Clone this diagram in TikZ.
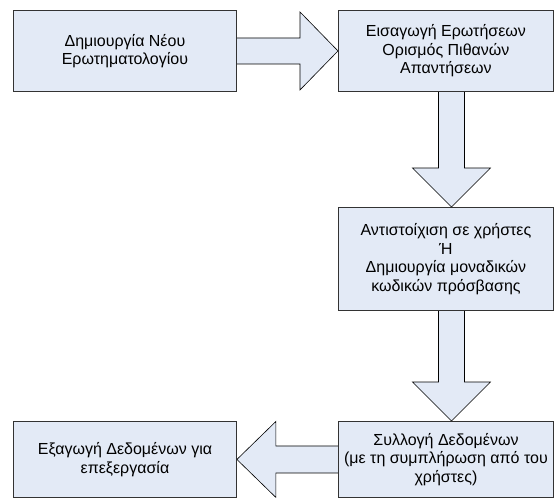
\documentclass[tikz,border=0pt]{standalone}
\usepackage{fontspec}
\setmainfont{Liberation Sans}
\usetikzlibrary{calc,backgrounds}
\definecolor{boxfill}{RGB}{227,234,246}
\begin{document}
\begin{tikzpicture}[x=1pt,y=-1pt,
  box/.style={draw=black!80, line width=0.9pt, fill=boxfill, align=center,
    font=\fontsize{16}{18.5}\selectfont, inner sep=0pt, anchor=north west},
  fatarrow/.style={draw=black, line width=0.6pt, fill=boxfill, line join=miter}]
\useasboundingbox (0,0) rectangle (555,498);
\node[box, minimum width=223pt, minimum height=81pt] (b1) at (13,10) {Δημιουργία Νέου\\Ερωτηματολογίου};
\node[box, minimum width=215pt, minimum height=81pt] (b2) at (338,10) {Εισαγωγή Ερωτήσεων\\Ορισμός Πιθανών\\Απαντήσεων};
\node[box, minimum width=215pt, minimum height=103pt] (b3) at (338,207) {Αντιστοίχιση σε χρήστες\\Ή\\Δημιουργία μοναδικών\\κωδικών πρόσβασης};
\node[box, minimum width=215pt, minimum height=76pt] (b4) at (338,421) {Συλλογή Δεδομένων\\(με τη συμπλήρωση από του\\χρήστες)};
\node[box, minimum width=223pt, minimum height=76pt] (b5) at (13,421) {Εξαγωγή Δεδομένων για\\επεξεργασία};
\begin{pgfonlayer}{background}
% arrow 1: b1 -> b2
\coordinate (s1) at (b1.east);
\coordinate (t1) at (b2.west);
\draw[fatarrow] ($(s1)+(0,-13)$) -- ($(t1)+(-38,-13)$) -- ($(t1)+(-38,-39)$) -- (t1)
  -- ($(t1)+(-38,39)$) -- ($(t1)+(-38,13)$) -- ($(s1)+(0,13)$);
% arrow 2: b2 -> b3
\coordinate (s2) at ($(b2.south)+(5.5,0)$);
\coordinate (t2) at ($(b3.north)+(5.5,0)$);
\draw[fatarrow] ($(s2)+(-13,0)$) -- ($(t2)+(-13,-39)$) -- ($(t2)+(-39,-39)$) -- (t2)
  -- ($(t2)+(39,-39)$) -- ($(t2)+(13,-39)$) -- ($(s2)+(13,0)$);
% arrow 3: b3 -> b4
\coordinate (s3) at ($(b3.south)+(5.5,0)$);
\coordinate (t3) at ($(b4.north)+(5.5,0)$);
\draw[fatarrow] ($(s3)+(-13,0)$) -- ($(t3)+(-13,-39)$) -- ($(t3)+(-39,-39)$) -- (t3)
  -- ($(t3)+(39,-39)$) -- ($(t3)+(13,-39)$) -- ($(s3)+(13,0)$);
% arrow 4: b4 -> b5
\coordinate (s4) at (b4.west);
\coordinate (t4) at (b5.east);
\draw[fatarrow] ($(s4)+(0,-13.5)$) -- ($(t4)+(39,-13.5)$) -- ($(t4)+(39,-38)$) -- (t4)
  -- ($(t4)+(39,38)$) -- ($(t4)+(39,13.5)$) -- ($(s4)+(0,13.5)$);
\end{pgfonlayer}
\end{tikzpicture}
\end{document}
